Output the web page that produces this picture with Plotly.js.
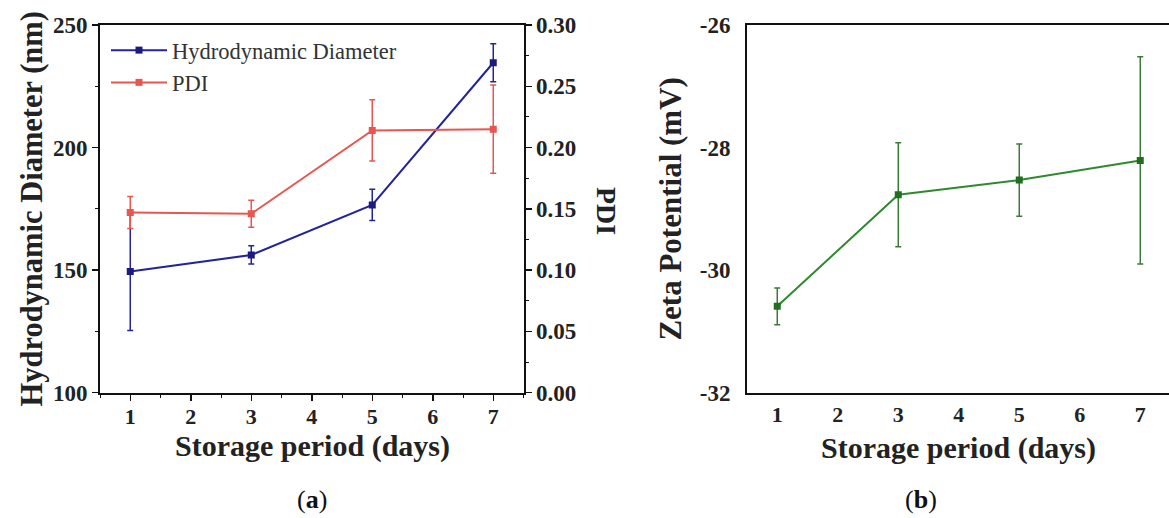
<!DOCTYPE html>
<html>
<head>
<meta charset="utf-8">
<script src="https://cdn.plot.ly/plotly-3.0.1.min.js"></script>
<style>html,body{margin:0;padding:0;background:#fff;}#chart{width:1169px;height:518px;}</style>
</head>
<body>
<div id="chart"></div>
<script>
// ---- data ----
const days = [1, 3, 5, 7];
const hydroDiameter = [149.4, 156.2, 176.6, 234.6];
const hydroErr = [24.0, 3.7, 6.4, 7.8];
const pdi = [0.147, 0.146, 0.214, 0.215];
const pdiErr = [0.013, 0.011, 0.025, 0.036];
const zeta = [-30.59, -28.77, -28.53, -28.21];
const zetaErr = [0.30, 0.85, 0.59, 1.69];
const xTicks = [1, 2, 3, 4, 5, 6, 7];
const hydroTicks = [100, 150, 200, 250];
const pdiTicks = [0, 0.05, 0.10, 0.15, 0.20, 0.25, 0.30];
const pdiTickText = ['0.00', '0.05', '0.10', '0.15', '0.20', '0.25', '0.30'];
const zetaTicks = [-32, -30, -28, -26];
const zetaTickText = ['-32', '-30', '-28', '-26'];
const xTitle = 'Storage period (days)';

const SERIF = '"Liberation Serif", "DejaVu Serif", serif';
const BLUE = '#24249a', RED = '#e8564f', GREEN = '#2f8a2f';

const traces = [
  {x: days, y: hydroDiameter, name: 'Hydrodynamic Diameter', type: 'scatter', mode: 'lines+markers',
   xaxis: 'x', yaxis: 'y',
   line: {color: BLUE, width: 2}, marker: {color: '#1a1a80', size: 7, symbol: 'square'},
   error_y: {type: 'data', array: hydroErr, visible: true, color: BLUE, thickness: 1.5, width: 3}},
  {x: days, y: pdi, name: 'PDI', type: 'scatter', mode: 'lines+markers',
   xaxis: 'x', yaxis: 'y3',
   line: {color: RED, width: 2}, marker: {color: RED, size: 7, symbol: 'square'},
   error_y: {type: 'data', array: pdiErr, visible: true, color: RED, thickness: 1.5, width: 3}},
  {x: days, y: zeta, name: 'Zeta Potential', type: 'scatter', mode: 'lines+markers', showlegend: false,
   xaxis: 'x2', yaxis: 'y2',
   line: {color: GREEN, width: 2}, marker: {color: '#1f6f1f', size: 7, symbol: 'square'},
   error_y: {type: 'data', array: zetaErr, visible: true, color: '#3a7a3a', thickness: 1.5, width: 3}}
];

const tickFont = {family: SERIF, size: 23, color: '#222', weight: 'bold'};
const xTickFont = {family: SERIF, size: 22, color: '#222', weight: 'bold'};
const xTitleFont = {family: SERIF, size: 30, color: '#222', weight: 'bold'};

const yTop = 1 - 25/518, yBot = 1 - 392.7/518;

const layout = {
  width: 1169, height: 518,
  margin: {l: 0, r: 0, t: 0, b: 0},
  paper_bgcolor: '#fff', plot_bgcolor: '#fff',
  showlegend: true,
  legend: {x: 106/1169, y: 1 - 29/518, xanchor: 'left', yanchor: 'top', bgcolor: 'rgba(0,0,0,0)',
           itemwidth: 56, font: {family: SERIF, size: 22.5, color: '#333'}, tracegroupgap: 0},
  xaxis: {domain: [100/1169, 523.5/1169], range: [0.5, 7.5], tickvals: xTicks,
          showgrid: false, zeroline: false, showline: true, linecolor: '#111', linewidth: 2, mirror: true,
          ticks: 'outside', ticklen: 6, tickwidth: 1.5, tickcolor: '#111',
          minor: {dtick: 0.5, ticks: 'outside', ticklen: 3, tickcolor: '#111', tickwidth: 1},
          tickfont: xTickFont, ticklabelstandoff: -3, anchor: 'y', fixedrange: true},
  yaxis: {domain: [yBot, yTop], range: [100, 250], tickvals: hydroTicks,
          showgrid: false, zeroline: false, showline: true, linecolor: '#111', linewidth: 2,
          ticks: 'outside', ticklen: 6, tickwidth: 1.5, tickcolor: '#111',
          minor: {dtick: 25, ticks: 'outside', ticklen: 3, tickcolor: '#111', tickwidth: 1},
          tickfont: tickFont,
          title: {text: 'Hydrodynamic Diameter (nm)', font: {family: SERIF, size: 30.5, color: '#222', weight: 'bold'}, standoff: 1},
          anchor: 'x', fixedrange: true},
  yaxis3: {overlaying: 'y', side: 'right', anchor: 'x', range: [0, 0.30], tickvals: pdiTicks, ticktext: pdiTickText,
           showgrid: false, zeroline: false, showline: true, linecolor: '#111', linewidth: 2,
           ticks: 'outside', ticklen: 6, tickwidth: 1.5, tickcolor: '#111',
           minor: {dtick: 0.025, ticks: 'outside', ticklen: 3, tickcolor: '#111', tickwidth: 1},
           tickfont: tickFont, fixedrange: true},
  xaxis2: {domain: [747/1169, 1], range: [0.5, 7.475], tickvals: xTicks,
           showgrid: false, zeroline: false, showline: true, linecolor: '#111', linewidth: 2, mirror: true,
           ticks: '', tickfont: xTickFont, ticklabelstandoff: 1, anchor: 'y2', fixedrange: true},
  yaxis2: {domain: [yBot, yTop], range: [-32, -26], tickvals: zetaTicks, ticktext: zetaTickText,
           showgrid: false, zeroline: false, showline: true, linecolor: '#111', linewidth: 2,
           ticks: '', tickfont: tickFont, ticklabelstandoff: 10,
           title: {text: 'Zeta Potential (mV)', font: {family: SERIF, size: 31, color: '#222', weight: 'bold'}, standoff: 9},
           anchor: 'x2', fixedrange: true},
  annotations: [
    {text: xTitle, xref: 'paper', yref: 'paper', x: 312/1169, y: 1 - 446/518, showarrow: false,
     font: xTitleFont, xanchor: 'center', yanchor: 'middle'},
    {text: xTitle, xref: 'paper', yref: 'paper', x: 958/1169, y: 1 - 448/518, showarrow: false,
     font: xTitleFont, xanchor: 'center', yanchor: 'middle'},
    {text: 'PDI', xref: 'paper', yref: 'paper', x: 606/1169, y: 1 - 211/518, showarrow: false,
     textangle: 90, font: {family: SERIF, size: 28, color: '#222', weight: 'bold'}, xanchor: 'center', yanchor: 'middle'},
    {text: '(<b>a</b>)', xref: 'paper', yref: 'paper', x: 312/1169, y: 1 - 499/518, showarrow: false,
     font: {family: SERIF, size: 26, color: '#111'}, xanchor: 'center', yanchor: 'middle'},
    {text: '(<b>b</b>)', xref: 'paper', yref: 'paper', x: 921/1169, y: 1 - 499/518, showarrow: false,
     font: {family: SERIF, size: 26, color: '#111'}, xanchor: 'center', yanchor: 'middle'}
  ]
};

Plotly.newPlot('chart', traces, layout, {displayModeBar: false, staticPlot: true});
</script>
</body>
</html>
